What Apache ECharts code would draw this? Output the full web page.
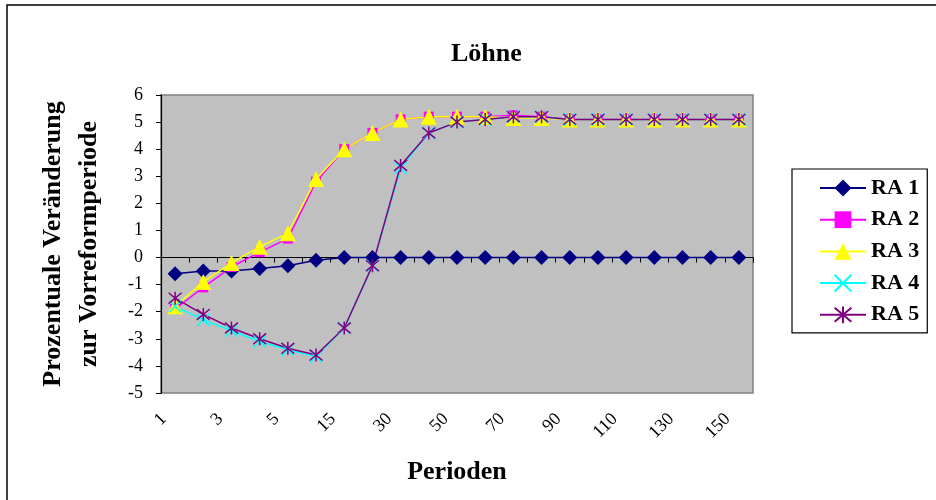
<!DOCTYPE html>
<html>
<head>
<meta charset="utf-8">
<script src="https://cdn.jsdelivr.net/npm/echarts@6/dist/echarts.min.js"></script>
<style>html,body{margin:0;padding:0;background:#fff;}#chart{width:936px;height:500px;}</style>
</head>
<body>
<div id="chart"></div>
<script>
const categories = ['1','2','3','4','5','10','15','20','30','40','50','60','70','80','90','100','110','120','130','140','150'];
const ra1 = [-0.6,-0.5,-0.5,-0.4,-0.3,-0.1,0,0,0,0,0,0,0,0,0,0,0,0,0,0,0];
const ra2 = [-1.9,-1.1,-0.35,0.2,0.7,2.8,4.0,4.6,5.1,5.2,5.2,5.2,5.25,5.2,5.1,5.1,5.1,5.1,5.1,5.1,5.1];
const ra3 = [-1.8,-0.9,-0.2,0.4,0.9,2.9,4.0,4.6,5.1,5.2,5.2,5.2,5.15,5.15,5.1,5.1,5.1,5.1,5.1,5.1,5.1];
const ra4 = [-1.8,-2.3,-2.7,-3.1,-3.4,-3.65,-2.6,-0.3,3.3,4.6,5.0,5.1,5.2,5.2,5.1,5.1,5.1,5.1,5.1,5.1,5.1];
const ra5 = [-1.5,-2.1,-2.6,-3.0,-3.35,-3.6,-2.6,-0.3,3.4,4.6,5.0,5.1,5.2,5.2,5.1,5.1,5.1,5.1,5.1,5.1,5.1];
const yTicks = {min: -5, max: 6, interval: 1};

const serif = "'Liberation Serif', 'Times New Roman', serif";
const xPath = 'path://M0,0L10,10M10,0L0,10';
const starPath = 'path://M0,0L10,10M10,0L0,10M5,-1L5,11';

function mkSeries(name, data, color, symbol, size, stroke) {
  return {
    name: name, type: 'line', data: data, xAxisIndex: 0,
    symbol: symbol, symbolSize: size, showAllSymbol: true,
    lineStyle: {color: color, width: 1.5},
    itemStyle: stroke ? {color: color, borderColor: color, borderWidth: 1.5} : {color: color, borderWidth: 0},
    emphasis: {disabled: true},
    animation: false
  };
}

const chart = echarts.init(document.getElementById('chart'), null, {renderer: 'canvas'});
chart.setOption({
  animation: false,
  backgroundColor: '#ffffff',
  title: {
    text: 'Löhne', left: 446, top: 36,
    textStyle: {fontFamily: serif, fontWeight: 'bold', fontSize: 26, color: '#000'}
  },
  graphic: [{
    type: 'rect', silent: true, z: -1,
    shape: {x: 7, y: 5, width: 1000, height: 1000},
    style: {fill: 'none', stroke: '#000', lineWidth: 1.5}
  }],
  legend: {
    orient: 'vertical', left: 792, top: 169,
    padding: [8, 8, 7, 27],
    itemWidth: 46, itemHeight: 21, itemGap: 9.7,
    backgroundColor: '#fff', borderColor: '#000', borderWidth: 1.2,
    selectedMode: false,
    textStyle: {fontFamily: serif, fontWeight: 'bold', fontSize: 22, color: '#000', lineHeight: 20},
    data: ['RA 1','RA 2','RA 3','RA 4','RA 5']
  },
  grid: {
    left: 161, right: 183, top: 95, bottom: 107,
    show: true, backgroundColor: '#C0C0C0', borderColor: '#808080', borderWidth: 1.5
  },
  xAxis: [{
    type: 'category', data: categories, boundaryGap: true,
    axisLine: {show: true, onZero: true, lineStyle: {color: '#000', width: 1.2}},
    axisTick: {show: true, inside: false, length: 5, interval: 0, lineStyle: {color: '#000'}},
    axisLabel: {show: false},
    splitLine: {show: false}
  }, {
    type: 'category', data: categories, boundaryGap: true, position: 'bottom',
    axisLine: {show: false, onZero: false},
    axisTick: {show: false},
    axisLabel: {
      show: true, interval: 1, rotate: 45, margin: 12,
      padding: [0, 16, 0, 0],
      fontFamily: serif, fontSize: 18, color: '#000'
    },
    splitLine: {show: false},
    name: 'Perioden', nameLocation: 'middle', nameGap: 66,
    nameTextStyle: {fontFamily: serif, fontWeight: 'bold', fontSize: 26, color: '#000'}
  }],
  yAxis: {
    type: 'value', min: yTicks.min, max: yTicks.max, interval: yTicks.interval,
    axisLine: {show: true, lineStyle: {color: '#000', width: 1.2}},
    axisTick: {show: true, inside: false, length: 5, lineStyle: {color: '#000'}},
    axisLabel: {margin: 18, fontFamily: serif, fontSize: 18, color: '#000'},
    splitLine: {show: false},
    name: 'Prozentuale Veränderung\nzur Vorreformperiode',
    nameLocation: 'middle', nameRotate: 90, nameGap: 54,
    nameTextStyle: {fontFamily: serif, fontWeight: 'bold', fontSize: 26, color: '#000', lineHeight: 36, align: 'center'}
  },
  series: [
    mkSeries('RA 1', ra1, '#000080', 'diamond', 15, false),
    mkSeries('RA 2', ra2, '#FF00FF', 'rect', 10, false),
    mkSeries('RA 3', ra3, '#FFFF00', 'triangle', 16, false),
    mkSeries('RA 4', ra4, '#00FFFF', xPath, 12, true),
    mkSeries('RA 5', ra5, '#800080', starPath, 13, true)
  ]
});
</script>
</body>
</html>
